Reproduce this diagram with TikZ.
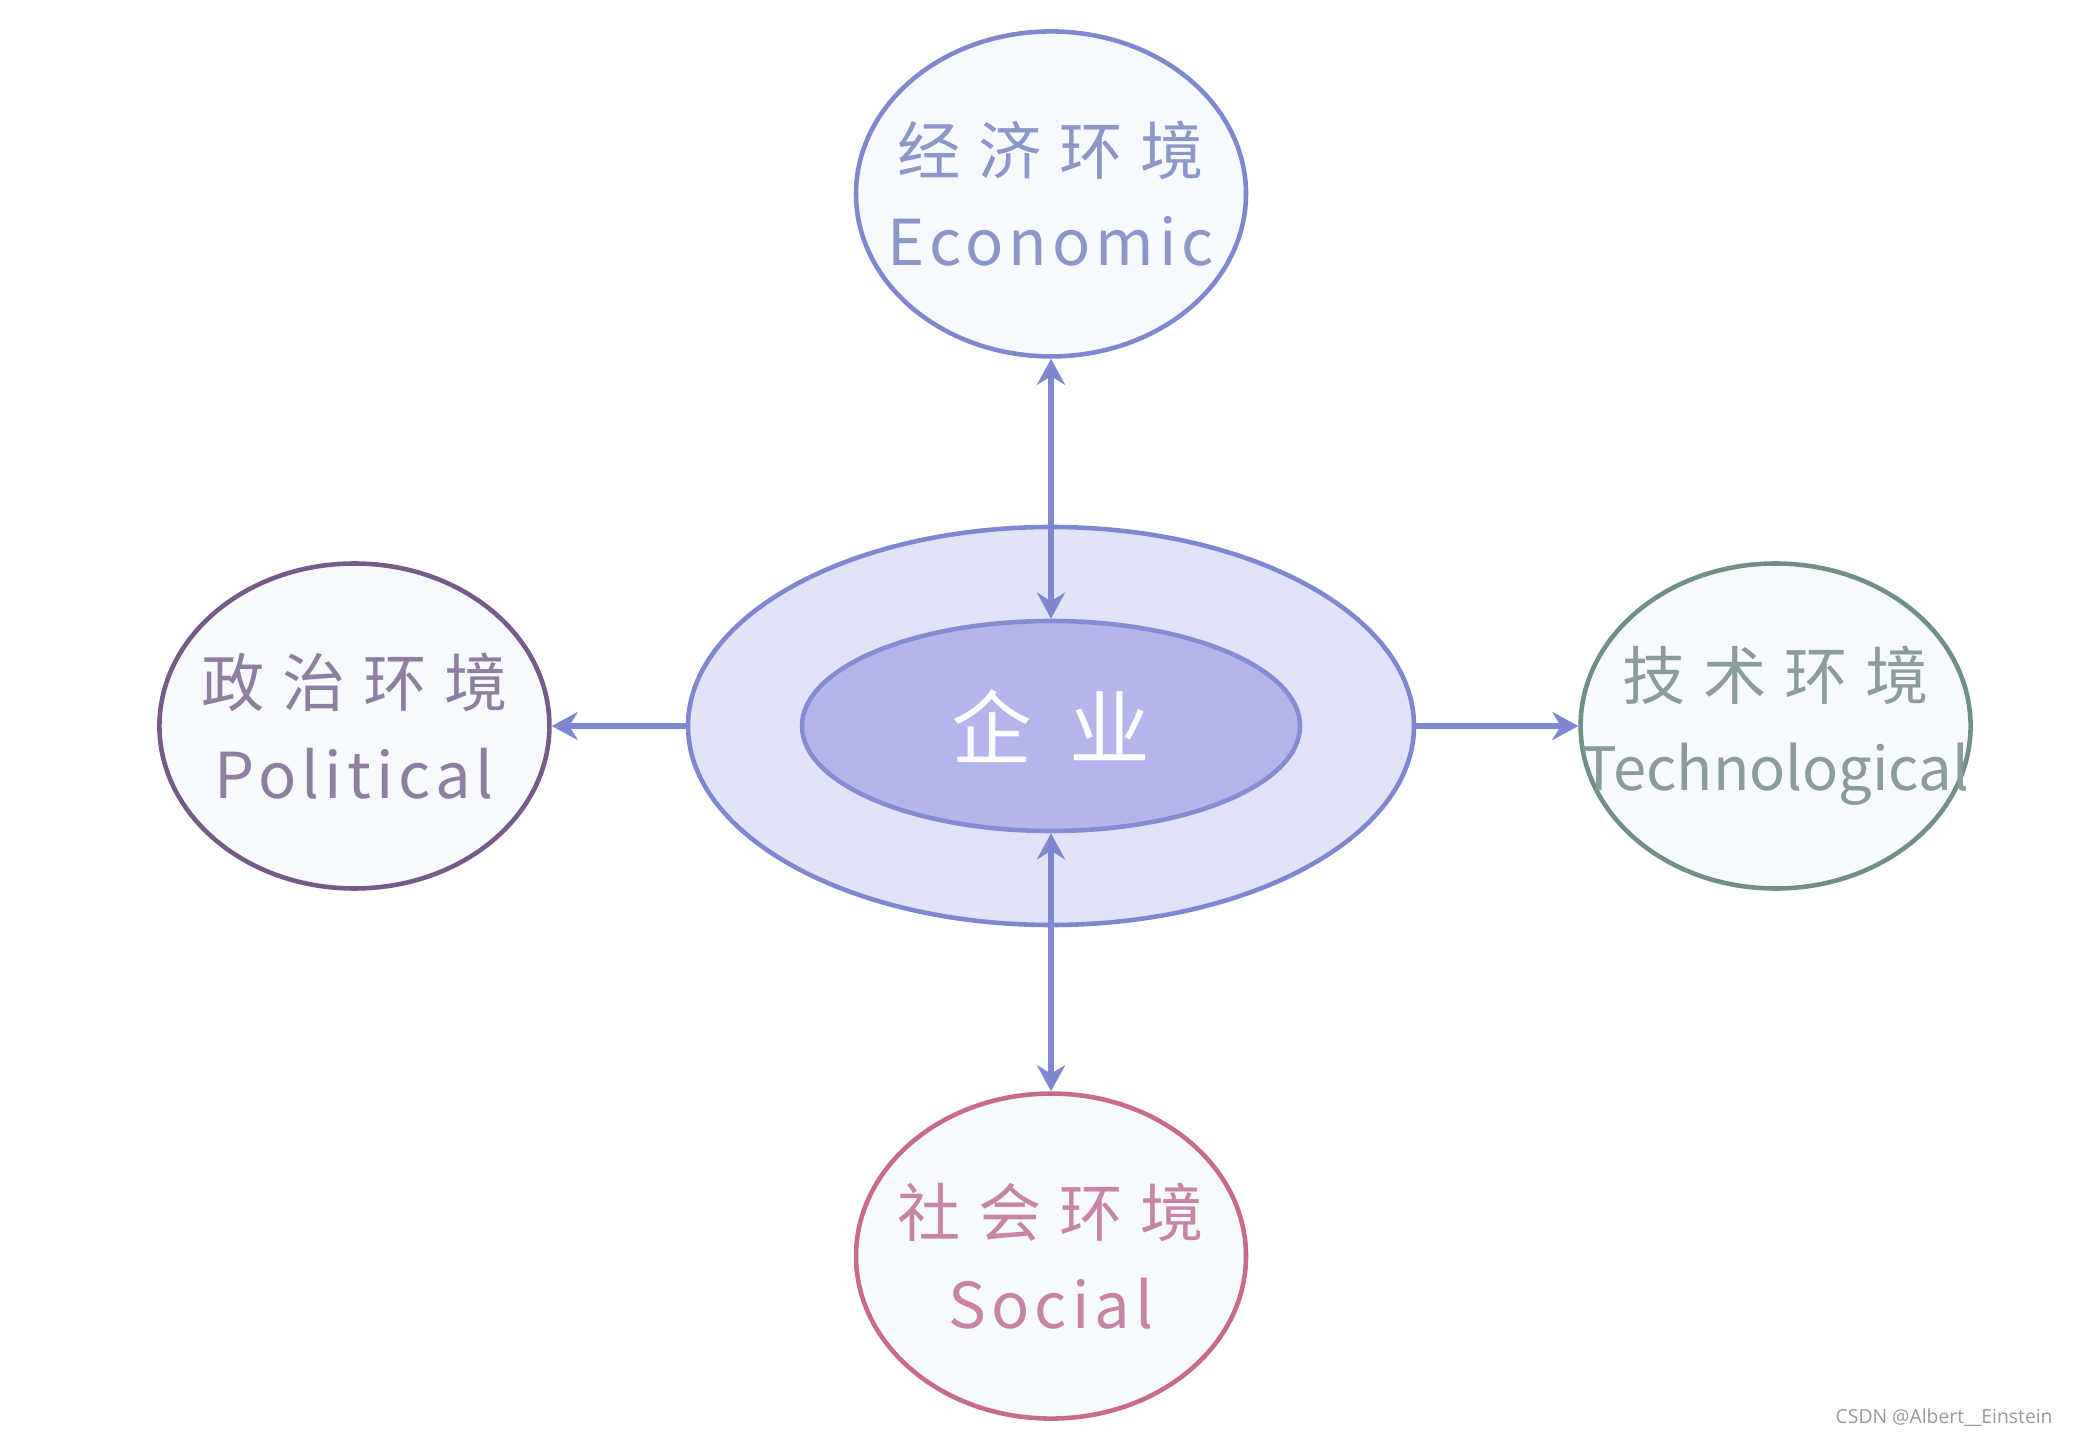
\documentclass[tikz,border=0pt]{standalone}
\usepackage{fontspec}
\newfontfamily\cjkfont[LetterSpace=28]{Noto Sans CJK SC}
\newfontfamily\latfont[LetterSpace=8]{Noto Sans CJK SC}
\newfontfamily\narrowfont{Noto Sans CJK SC}
\newfontfamily\markfont{Open Sans}
\usetikzlibrary{positioning,arrows.meta,shapes.geometric}

\definecolor{linkC}{HTML}{7E87D0}
\definecolor{ringfill}{HTML}{E1E4F8}
\definecolor{corefill}{HTML}{B3B5EB}
\definecolor{coreline}{HTML}{868CD4}
\definecolor{envfill}{HTML}{F7FAFD}
\definecolor{ecoC}{HTML}{7F88CE}
\definecolor{ecoT}{HTML}{8C96C8}
\definecolor{polC}{HTML}{765A88}
\definecolor{polT}{HTML}{8F7EA0}
\definecolor{techC}{HTML}{6F8F88}
\definecolor{techT}{HTML}{8A9C9C}
\definecolor{socC}{HTML}{C86A8C}
\definecolor{socT}{HTML}{C884A4}

\begin{document}
\begin{tikzpicture}[
  >={Stealth[length=2.6mm, width=2.8mm]},
  envbox/.style={ellipse, draw, line width=1.3pt, fill=envfill, minimum width=39mm, minimum height=32.5mm, inner sep=0pt},
  envtext/.style={align=center, font=\fontsize{18pt}{26pt}\selectfont},
  link/.style={->, line width=1.5pt, draw=linkC},
  biarrow/.style={<->, line width=1.5pt, draw=linkC},
]
  \useasboundingbox (0,0) rectangle (20.82,14.40);

  % the enterprise in the middle
  \node[ellipse, draw=linkC, line width=1.3pt, fill=ringfill, minimum width=72.6mm, minimum height=39.8mm] (ring) at (10.51,7.14) {};
  \node[ellipse, draw=coreline, line width=1.3pt, fill=corefill, minimum width=49.8mm, minimum height=21mm, text=white, font=\cjkfont\fontsize{23pt}{28pt}\selectfont] (core) at (ring.center) {企\hspace{0.45em}业};

  % the four environments
  \node[envbox, draw=ecoC, above=16.6mm of ring] (eco) {};
  \node[envtext, text=ecoT] at (eco) {{\cjkfont 经济环境}\\{\latfont Economic}};

  \node[envbox, draw=polC, left=13.4mm of ring] (pol) {};
  \node[envtext, text=polT] at (pol) {{\cjkfont 政治环境}\\{\latfont Political}};

  \node[envbox, draw=techC, right=16.2mm of ring] (tech) {};
  \node[envtext, text=techT] at (tech) {{\cjkfont 技术环境}\\{\narrowfont\fontsize{17pt}{26pt}\selectfont Technological}};

  \node[envbox, draw=socC, below=16.4mm of ring] (soc) {};
  \node[envtext, text=socT] at (soc) {{\cjkfont 社会环境}\\{\latfont Social}};

  % links
  \draw[biarrow] (eco) -- (core);
  \draw[biarrow] (core) -- (soc);
  \draw[link] (ring) -- (pol);
  \draw[link] (ring) -- (tech);

  \node[anchor=east, text=gray!80, font=\markfont\fontsize{5.5pt}{7pt}\selectfont] (mark) at (20.65,0.22) {CSDN @Albert\_\_Einstein};
\end{tikzpicture}
\end{document}
